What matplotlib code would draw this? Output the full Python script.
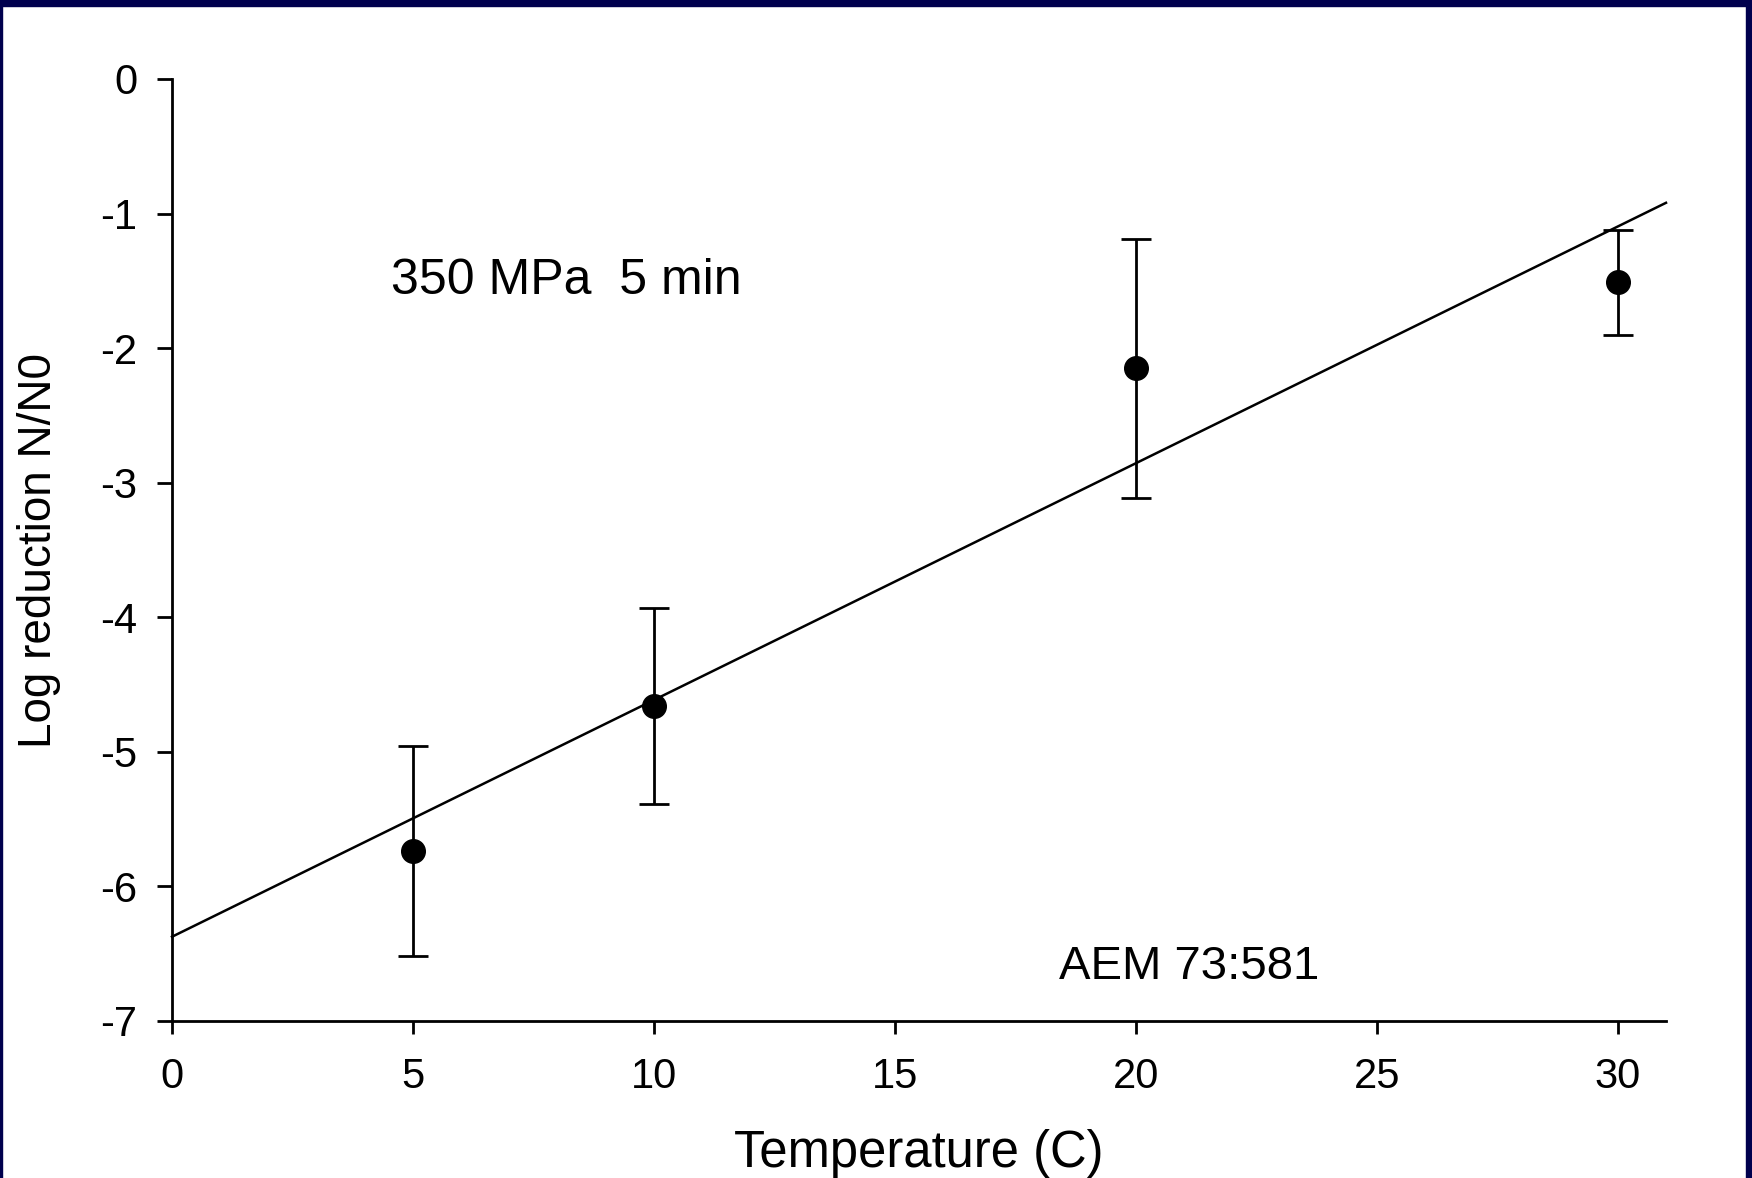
import matplotlib
matplotlib.use("Agg")
import matplotlib.pyplot as plt
from matplotlib.patches import Rectangle
import numpy as np

# data
temps = [5, 10, 20, 30]
log_red = [-5.74, -4.66, -2.15, -1.51]
err = [0.78, 0.73, 0.96, 0.39]

xticks = [0, 5, 10, 15, 20, 25, 30]
yticks = [0, -1, -2, -3, -4, -5, -6, -7]

plt.rcParams['font.family'] = ['Liberation Sans', 'DejaVu Sans']

W, H = 1752, 1178
fig = plt.figure(figsize=(W / 100, H / 100), dpi=100, facecolor="white")
ax = fig.add_axes([172 / W, 1 - 1021 / H, (1666 - 172) / W, (1021 - 79) / H])

# navy frame round the slide
navy = "#00004e"
for x0, y0, w, h in [(0, 1 - 6 / H, 1, 6 / H), (0, 0, 2 / W, 1), (1 - 6 / W, 0, 6 / W, 1)]:
    fig.patches.append(Rectangle((x0, y0), w, h, transform=fig.transFigure,
                                 color=navy, zorder=10))

# least squares line through the points
slope, icpt = np.polyfit(temps, log_red, 1)
xl = np.array([0, 31])
ax.plot(xl, icpt + slope * xl, color="black", lw=1.8, clip_on=False)

ax.errorbar(temps, log_red, yerr=err, fmt="o", color="black", ms=17, lw=2,
            capsize=11, capthick=2, clip_on=False)

ax.set_xlim(0, 31)
ax.set_ylim(-7, 0)
ax.set_xticks(xticks)
ax.set_yticks(yticks)
ax.set_yticklabels([str(v) for v in yticks])
for s in ["top", "right"]:
    ax.spines[s].set_visible(False)
for s in ["left", "bottom"]:
    ax.spines[s].set_linewidth(2)
ax.tick_params(axis="x", direction="out", length=9, width=2, pad=17, labelsize=30)
ax.tick_params(axis="y", direction="out", length=11, width=2, pad=14, labelsize=30)

ax.set_xlabel("Temperature (C)", fontsize=36.5, labelpad=23)
ax.set_ylabel("Log reduction N/N0", fontsize=33, labelpad=28)

ax.text(8.18, -1.5, "350 MPa  5 min", fontsize=36, va="center", ha="center")
ax.text(21.1, -6.6, "AEM 73:581", fontsize=34, va="center", ha="center")

fig.savefig("out.png", dpi=100, facecolor=fig.get_facecolor())
